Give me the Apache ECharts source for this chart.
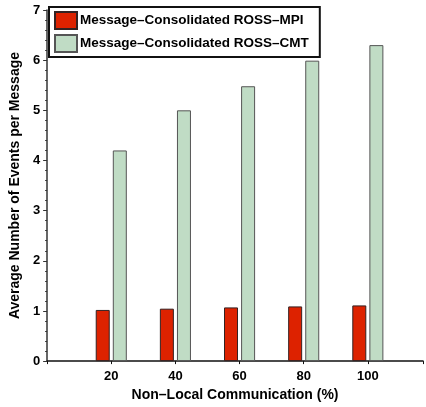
<!DOCTYPE html>
<html>
<head>
<meta charset="utf-8">
<script src="https://cdn.jsdelivr.net/npm/echarts@6/dist/echarts.min.js"></script>
<style>
  html, body { margin: 0; padding: 0; background: #fff; }
  #chart { width: 426px; height: 407px; }
</style>
</head>
<body>
<div id="chart"></div>
<script>
// 数据
const commPercent = [20, 40, 60, 80, 100];
const mpiValues = [1.02, 1.045, 1.07, 1.09, 1.11];
const cmtValues = [4.2, 5.0, 5.48, 5.99, 6.3];
const seriesNames = ['Message\u2013Consolidated ROSS\u2013MPI', 'Message\u2013Consolidated ROSS\u2013CMT'];

const chart = echarts.init(document.getElementById('chart'));

const font = 'Liberation Sans, Arial, sans-serif';

const option = {
  animation: false,
  textStyle: { fontFamily: font },
  grid: { left: 44, right: 0, top: 10, bottom: 39 },
  legend: {
    left: 49,
    top: 7,
    orient: 'vertical',
    icon: 'rect',
    itemWidth: 22,
    itemHeight: 17,
    itemGap: 4,
    padding: [4, 11, 4, 5],
    backgroundColor: '#fff',
    borderColor: '#111',
    borderWidth: 2,
    textStyle: { fontSize: 13.5, fontWeight: 'bold', color: '#000', fontFamily: font, padding: [0, 0, 0, -2] }
  },
  xAxis: {
    type: 'value',
    min: 0,
    max: 117.2,
    interval: 20,
    name: 'Non\u2013Local Communication (%)',
    nameLocation: 'middle',
    nameGap: 25,
    nameTextStyle: { fontSize: 14, fontWeight: 'bold', color: '#000' },
    axisLine: { show: true, lineStyle: { color: '#111', width: 1.5 } },
    axisTick: { show: true, length: 3, lineStyle: { color: '#111' } },
    splitLine: { show: false },
    axisLabel: {
      fontSize: 13, fontWeight: 'bold', color: '#000', margin: 9,
      formatter: v => (commPercent.includes(v) ? String(v) : '')
    }
  },
  yAxis: {
    type: 'value',
    min: 0,
    max: 7,
    interval: 1,
    name: 'Average Number of Events per Message',
    nameLocation: 'middle',
    nameGap: 21,
    nameTextStyle: { fontSize: 14, fontWeight: 'bold', color: '#000' },
    axisLine: { show: true, lineStyle: { color: '#333', width: 1.5 } },
    axisTick: { show: true, inside: false, length: 4, lineStyle: { color: '#333' } },
    minorTick: { show: true, splitNumber: 5, length: 2, lineStyle: { color: '#333' } },
    splitLine: { show: false },
    axisLabel: { fontSize: 13, fontWeight: 'bold', color: '#000', margin: 7 }
  },
  series: [
    {
      name: seriesNames[0],
      type: 'bar',
      barWidth: 14,
      barGap: '22%',
      data: commPercent.map((x, i) => [x, mpiValues[i]]),
      itemStyle: { color: '#dd2200', borderColor: '#332222', borderWidth: 1 }
    },
    {
      name: seriesNames[1],
      type: 'bar',
      barWidth: 14,
      barGap: '22%',
      data: commPercent.map((x, i) => [x, cmtValues[i]]),
      itemStyle: { color: '#c0dcc5', borderColor: '#555', borderWidth: 1 }
    }
  ]
};

chart.setOption(option);
</script>
</body>
</html>
